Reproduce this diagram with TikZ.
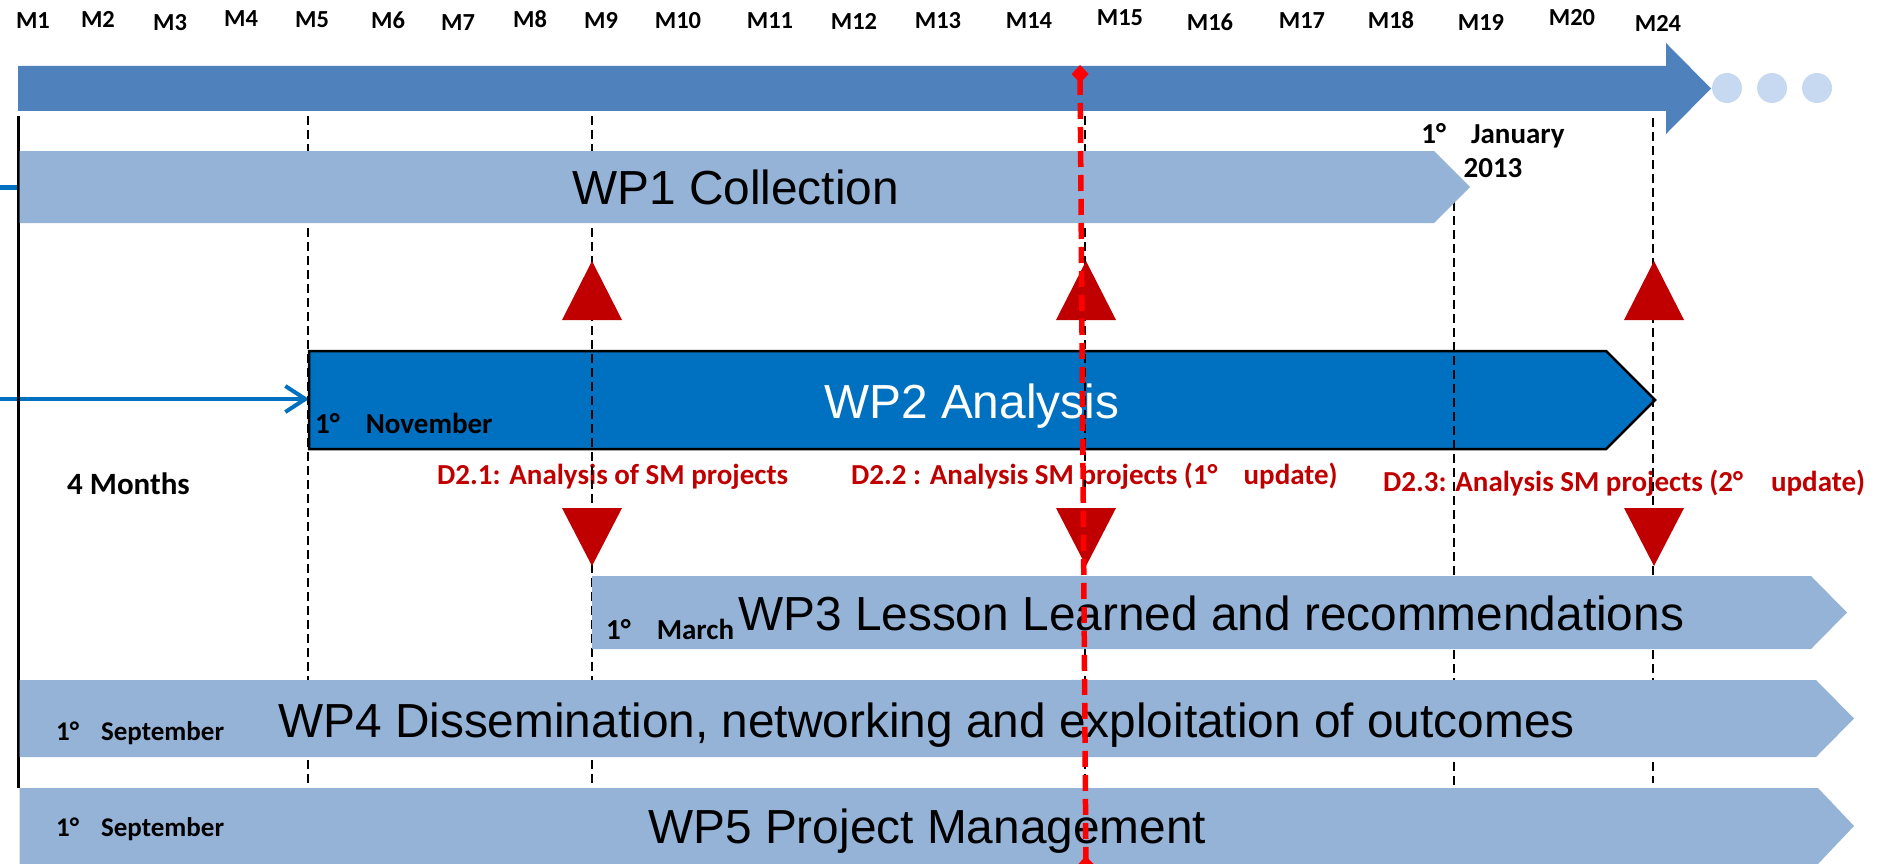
\documentclass[tikz,border=0pt]{standalone}
\usepackage{fontspec}
\setmainfont{Liberation Sans}
\newfontfamily\calib{Carlito}
\usetikzlibrary{arrows.meta}
\definecolor{topblue}{HTML}{4F81BD}
\definecolor{lightbar}{HTML}{95B3D7}
\definecolor{wptwo}{HTML}{0070C0}
\definecolor{dotblue}{HTML}{C6D9F1}
\definecolor{darkred}{HTML}{C00000}
\definecolor{brightred}{HTML}{FF0000}
\tikzset{
  bigtxt/.style={inner sep=0pt, anchor=base west, font=\fontsize{47.8}{56}\selectfont},
  smalltxt/.style={inner sep=0pt, anchor=base west, font=\calib\bfseries\fontsize{29}{34}\selectfont},
  septxt/.style={inner sep=0pt, anchor=base west, font=\calib\bfseries\fontsize{27}{31}\selectfont},
  redtxt/.style={smalltxt, text=darkred},
  monthtxt/.style={inner sep=0pt, anchor=center, font=\calib\bfseries\fontsize{24.5}{28}\selectfont},
  guide/.style={draw=black, line width=2.5pt, dash pattern=on 9pt off 5pt},
  bartwo/.style={fill=wptwo, draw=black, line width=2.5pt},
  lightbarstyle/.style={fill=lightbar, draw=none},
  tri/.style={fill=darkred, draw=none},
  inarrow/.style={draw=wptwo, line width=4pt, -{Straight Barb[length=20pt,width=26pt,line width=4pt]}},
  reddash/.style={draw=brightred, line width=5.5pt, dash pattern=on 16pt off 8pt,
    {Diamond[length=18pt,width=17pt]}-{Diamond[length=18pt,width=17pt]}},
}
\begin{document}
\begin{tikzpicture}[x=1pt,y=-1pt]
\useasboundingbox (0,0) rectangle (1878,864);
\clip (0,0) rectangle (1878,864);

% WP2 bar
\draw[bartwo] (309,351) -- (1606,351) -- (1655,400) -- (1606,449) -- (309,449) -- cycle;
\node[bigtxt, text=white] (wp2) at (824,418) {WP2 Analysis};
\node[smalltxt] (nov) at (315,433) {1°\hspace{26pt}November};

% incoming blue arrows
\coordinate (inone) at (0,187);
\coordinate (wponew) at (19,187);
\coordinate (intwo) at (0,399);
\coordinate (wptwow) at (309,399);
\draw[draw=wptwo, line width=5pt] (inone) -- (wponew);
\draw[inarrow] (intwo) -- (wptwow);

% labels
\node[smalltxt, font=\calib\bfseries\fontsize{31}{36}\selectfont] (months) at (67,494) {4 Months};
\node[redtxt] (d21) at (437,484) {D2.1: Analysis of SM projects};
\node[redtxt] (d22) at (851,484) {D2.2 : Analysis SM projects (1°\hspace{26pt}update)};
\node[redtxt] (d23) at (1383,491) {D2.3: Analysis SM projects (2°\hspace{28pt}update)};

% guide lines
\draw[line width=3pt] (18,116) -- (18,788);
\draw[guide] (308,116) -- (308,783);
\draw[guide] (592,116) -- (592,784);
\draw[guide] (1085,116) -- (1085,785);
\draw[guide] (1454,202) -- (1454,787);
\draw[guide] (1653,118) -- (1653,783);

% milestone triangles
\foreach \x in {592,1086,1654} {
  \fill[tri] (\x,261) -- (\x+30,320) -- (\x-30,320) -- cycle;
  \fill[tri] (\x-30,508) -- (\x+30,508) -- (\x,566) -- cycle;
}

% light work-package bars
\fill[lightbarstyle] (19.5,151) -- (1434,151) -- (1470,187) -- (1434,223) -- (19.5,223) -- cycle;
\node[bigtxt] (wp1) at (572,204) {WP1 Collection};

\fill[lightbarstyle] (592,576) -- (1811,576) -- (1847,612.5) -- (1811,649) -- (592,649) -- cycle;
\node[bigtxt] (wp3) at (738,630) {WP3 Lesson Learned and recommendations};
\node[smalltxt] (mar) at (606,639) {1°\hspace{26pt}March};

\fill[lightbarstyle] (19.5,680) -- (1816,680) -- (1854,718.5) -- (1816,757) -- (19.5,757) -- cycle;
\node[bigtxt] (wp4) at (278,737) {WP4 Dissemination, networking and exploitation of outcomes};
\node[septxt] (sepa) at (56,740) {1°\hspace{22pt}September};

\fill[lightbarstyle] (19.5,788) -- (1818,788) -- (1854,826) -- (1818,864) -- (19.5,864) -- cycle;
\node[bigtxt] (wp5) at (648,843) {WP5 Project Management};
\node[septxt] (sepb) at (56,836) {1°\hspace{22pt}September};

% time axis
\fill[topblue] (18,66) -- (1666,66) -- (1666,43) -- (1711,88.5) -- (1666,134) -- (1666,111) -- (18,111) -- cycle;
\foreach \x in {1727,1772,1817} \fill[dotblue] (\x,88) circle[radius=15];

\node[monthtxt] (m1) at (33,21) {M1};
\node[monthtxt] (m2) at (98,19) {M2};
\node[monthtxt] (m3) at (170,23) {M3};
\node[monthtxt] (m4) at (241,19) {M4};
\node[monthtxt] (m5) at (312,20) {M5};
\node[monthtxt] (m6) at (388,20) {M6};
\node[monthtxt] (m7) at (458,23) {M7};
\node[monthtxt] (m8) at (530,19) {M8};
\node[monthtxt] (m9) at (601,20) {M9};
\node[monthtxt] (m10) at (678,21) {M10};
\node[monthtxt] (m11) at (770,21) {M11};
\node[monthtxt] (m12) at (854,21) {M12};
\node[monthtxt] (m13) at (938,21) {M13};
\node[monthtxt] (m14) at (1029,21) {M14};
\node[monthtxt] (m15) at (1120,18) {M15};
\node[monthtxt] (m16) at (1210,22) {M16};
\node[monthtxt] (m17) at (1302,21) {M17};
\node[monthtxt] (m18) at (1391,20) {M18};
\node[monthtxt] (m19) at (1481,22) {M19};
\node[monthtxt] (m20) at (1572,18) {M20};
\node[monthtxt] (m24) at (1658,23) {M24};

\node[smalltxt, anchor=base, align=center] (jan) at (1493,177) {1°\hspace{25pt}January\\2013};

% today marker
\coordinate (rtop) at (1080,65);
\coordinate (rbot) at (1086,874);
\draw[reddash] (rtop) -- (rbot);
\end{tikzpicture}
\end{document}
